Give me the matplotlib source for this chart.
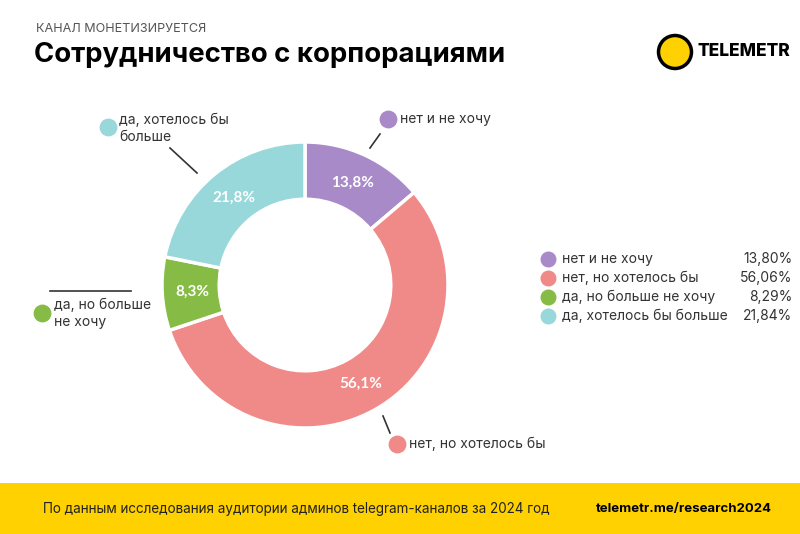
import matplotlib
matplotlib.use("Agg")
import matplotlib.pyplot as plt
from matplotlib.patches import Rectangle, Circle

plt.rcParams["font.family"] = ["Inter", "DejaVu Sans"]

# data
categories = ["нет и не хочу", "нет, но хотелось бы",
              "да, но больше не хочу", "да, хотелось бы больше"]
values = [13.80, 56.06, 8.29, 21.84]
legend_pct = ["13,80%", "56,06%", "8,29%", "21,84%"]
outer_labels = ["нет и не хочу", "нет, но хотелось бы",
                "да, но больше\nне хочу", "да, хотелось бы\nбольше"]
colors = ["#A98AC8", "#F08A88", "#86BC45", "#98D8DA"]

W, H = 800, 534
fig = plt.figure(figsize=(W / 100, H / 100), dpi=100)

# overlay axes in pixel coordinates for layout text
bg = fig.add_axes([0, 0, 1, 1])
bg.set_xlim(0, W)
bg.set_ylim(H, 0)
bg.axis("off")

# header
bg.text(36, 29, "КАНАЛ МОНЕТИЗИРУЕТСЯ", fontsize=9.1, color="#555555",
        va="center", ha="left")
bg.text(34, 55, "Сотрудничество с корпорациями", fontsize=19.8,
        fontweight="bold", color="black", va="center", ha="left")

# logo
bg.add_patch(Circle((675, 52), 16.5, facecolor="#FFD100", edgecolor="black",
                    lw=2.5))
bg.text(698, 52, "TELEMETR", fontsize=12.5, fontweight="heavy", va="center",
        ha="left", color="black")

# footer
bg.add_patch(Rectangle((0, 483), W, H - 483, facecolor="#FFD100",
                       edgecolor="none"))
bg.text(43, 509, "По данным исследования аудитории админов telegram-каналов за 2024 год",
        fontsize=9.7, va="center", ha="left", color="#222222")
bg.text(772, 509, "telemetr.me/research2024", fontsize=9.5, fontweight="bold",
        va="center", ha="right", color="black")

# donut
cx, cy, r = 305, 285, 143
pie_ax = fig.add_axes([(cx - r) / W, 1 - (cy + r) / H, 2 * r / W, 2 * r / H])
pie_ax.pie(values, colors=colors, startangle=90, counterclock=False,
           radius=1.0, pctdistance=0.79,
           autopct=lambda p: f"{p:.1f}%".replace(".", ","),
           wedgeprops=dict(width=0.40, edgecolor="white", linewidth=2.5),
           textprops=dict(color="white", fontsize=11, fontweight="bold",
                          family=["Lato", "DejaVu Sans"]))
pie_ax.set_xlim(-1, 1)
pie_ax.set_ylim(-1, 1)
pie_ax.set_aspect("equal")

# outer labels with leader lines
lab_pos = [(400, 119), (409, 444), (54, 313), (119, 128)]
dot_pos = [(388, 119), (397, 444), (42, 313), (108, 127)]
leaders = [((370, 148), (380, 134)), ((383, 416), (390, 433)),
           ((50, 291), (131, 291)), ((170, 148), (197, 173))]
for i, lab in enumerate(outer_labels):
    bg.scatter(*dot_pos[i], s=140, color=colors[i], zorder=3)
    bg.text(lab_pos[i][0], lab_pos[i][1], lab, fontsize=10, color="#333333",
            va="center", ha="left", linespacing=1.3)
    (x0, y0), (x1, y1) = leaders[i]
    bg.plot([x0, x1], [y0, y1], color="#333333", lw=1.2)

# legend on the right
for i, cat in enumerate(categories):
    y = 259 + i * 19
    bg.scatter(548, y, s=110, color=colors[i], zorder=3)
    bg.text(562, y, cat, fontsize=10, color="#333333", va="center", ha="left")
    bg.text(792, y, legend_pct[i], fontsize=10, color="#333333", va="center",
            ha="right")

fig.savefig("out.png", dpi=100)
